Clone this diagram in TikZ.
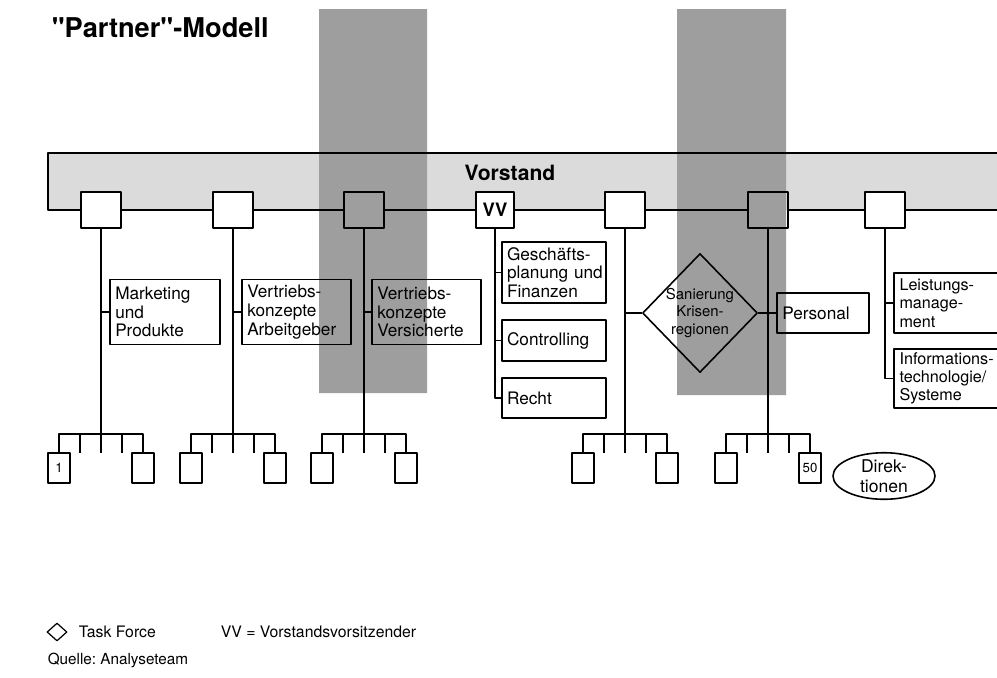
\documentclass[tikz,border=0pt]{standalone}
\usepackage{fontspec}
\setmainfont{TeX Gyre Heros}
\frenchspacing
\usetikzlibrary{shapes.geometric,calc}
\definecolor{bandgray}{gray}{0.86}
\definecolor{stripegray}{gray}{0.62}
\begin{document}
\begin{tikzpicture}[x=0.02cm, y=-0.02cm, line join=round, line width=0.9pt,
		box/.style={draw, align=left, inner xsep=3pt, inner ysep=0pt, font=\fontsize{9.8}{10.6}\selectfont},
		sq/.style={draw, minimum width=0.8cm, minimum height=0.72cm, inner sep=0pt},
		leaf/.style={draw, minimum width=0.44cm, minimum height=0.6cm, inner sep=0pt, font=\fontsize{7.5}{8}\selectfont}]
				\fill[white] (0,0) rectangle (997,677);
				\useasboundingbox (0,0) rectangle (997,677);
				\fill[bandgray] (48,153) rectangle (1010,210);
				\fill[stripegray] (319,9) rectangle (427,393) (677,9) rectangle (786,395);
				\node[anchor=base west, inner sep=0pt, font=\bfseries\fontsize{15.5}{18}\selectfont] (title) at (51,37) {\textquotedbl Partner\textquotedbl-Modell};
				\node[font=\bfseries\fontsize{12}{14}\selectfont] (vorstand) at (510,173) {Vorstand};
				\coordinate (bl) at (48,210);
				\coordinate (br) at (1010,210);
				\foreach \n/\x/\f in {a/101/white,b/233/white,c/364/none,e/625/white,f/768/none,g/885/white}
				\node[sq, fill=\f] (sq\n) at (\x,210) {};
				\node[sq, fill=white, minimum width=0.76cm, font=\bfseries\fontsize{10.5}{12}\selectfont] (vv) at (495,210) {VV};
				\draw (br) -- (br|-0,153) -- (48,153) -- (bl) -- (sqa) -- (sqb) -- (sqc) -- (vv) -- (sqe) -- (sqf) -- (sqg) -- (br);
				\node[box, text width=1.99cm, minimum height=1.3cm] (mkt) at (165,312) {Marketing\\und\\Produkte};
				\node[box, text width=1.97cm, minimum height=1.3cm] (vag) at (296.5,312) {Vertriebs-\\konzepte\\Arbeitgeber};
				\node[box, text width=1.97cm, minimum height=1.3cm] (vvs) at (426.5,312) {Vertriebs-\\konzepte\\Versicherte};
				\node[box, text width=1.88cm, minimum height=1.22cm] (gpf) at (554,272.5) {Geschäfts-\\planung~und\\Finanzen};
				\node[box, text width=1.88cm, minimum height=0.82cm] (ctl) at (554,340.5) {Controlling};
				\node[box, text width=1.88cm, minimum height=0.8cm] (rec) at (554,398) {Recht};
				\node[draw, diamond, minimum width=2.3cm, minimum height=2.38cm, inner sep=0pt] (san) at (700,313) {};
				\node[align=center, font=\fontsize{8.5}{10}\selectfont] (santxt) at (san) {Sanierung\\Krisen-\\regionen};
				\node[box, text width=1.63cm, minimum height=0.8cm] (pers) at (823,313) {Personal};
				\node[box, text width=2.1cm, minimum height=1.2cm, font=\fontsize{9.2}{10.4}\selectfont] (lm) at (952,303) {Leistungs-\\manage-\\ment};
				\node[box, text width=2.1cm, minimum height=1.18cm, font=\fontsize{9.2}{10.4}\selectfont] (its) at (952,378.5) {Informations-\\technologie/\\Systeme};
				\draw (mkt.west) -- (mkt.west-|sqa);
				\draw (vag.west) -- (vag.west-|sqb);
				\draw (vvs.west) -- (vvs.west-|sqc);
				\draw (vv) |- (rec.west);
				\draw (gpf.west) -- (gpf.west-|vv);
				\draw (ctl.west) -- (ctl.west-|vv);
				\draw (san.west) -- (san.west-|sqe);
				\draw (san.east) -- (pers.west);
				\draw (sqg) |- (its.west);
				\draw (lm.west) -- (lm.west-|sqg);
				\foreach \n/\x/\l/\r in {a/101/1/{},b/233/{}/{},c/364/{}/{},e/625/{}/{},f/768/{}/50}{
					\node[leaf] (\n1) at (\x-42,468) {\l};
					\node[leaf] (\n2) at (\x+42,468) {\r};
					\draw (sq\n) -- (\x,434);
					\draw (\n1.north) |- (\x,434) -| (\n2.north);
					\foreach \d in {-21,0,21}
					\draw (\x+\d,434) -- ++(0,19);
				}
				\node[draw, ellipse, minimum width=2.04cm, minimum height=0.84cm, inner sep=0pt, align=center, font=\fontsize{10}{11.3}\selectfont] (dir) at (884,476) {Direk-\\tionen};
				\node[draw, diamond, minimum width=0.4cm, minimum height=0.36cm, inner sep=0pt, line width=0.7pt] (tf) at (57,632) {};
				\node[anchor=west, inner sep=0pt, font=\fontsize{9}{10}\selectfont] (tftxt) at (78,632) {Task Force};
				\node[anchor=west, inner sep=0pt, font=\fontsize{9}{10}\selectfont] (vvtxt) at (220,632) {VV = Vorstandsvorsitzender};
				\node[anchor=west, inner sep=0pt, font=\fontsize{8.7}{10}\selectfont] (quelle) at (47,660) {Quelle: Analyseteam};
		\end{tikzpicture}
\end{document}
